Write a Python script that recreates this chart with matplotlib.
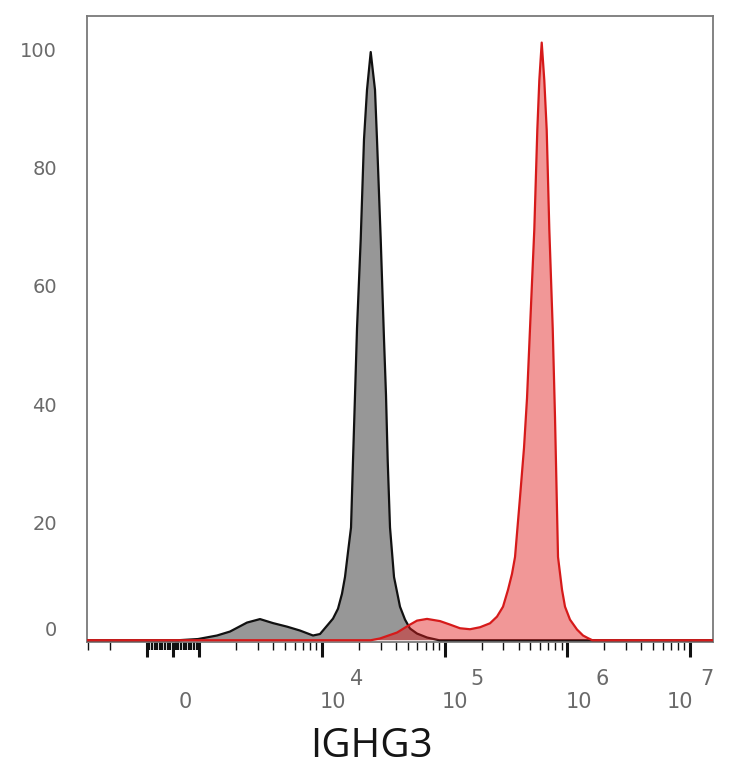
import numpy as np
import matplotlib
matplotlib.use("Agg")
import matplotlib.pyplot as plt
from matplotlib import transforms as mtrans

# ---------------- data (fluorescence intensity, % of max) ----------------
gray_x = [-5000, 200, 949, 1393, 1778, 2446, 3123, 3986, 5184, 6615, 8446, 9630,
          11190, 12290, 13500, 14550, 15400, 16290, 17240, 17890, 18580, 19290,
          20680, 21990, 23270, 24950, 27040, 28070, 30100, 32000, 33240, 34320,
          35840, 38640, 43230, 47500, 52160, 59500, 71800, 90000, 2e7]
gray_y = [0, 0, 0.2, 0.8, 1.47, 2.99, 3.58, 2.9, 2.3, 1.64, 0.8, 1.05,
          2.65, 3.66, 5.34, 7.87, 10.73, 14.94, 19.1, 30.4, 41.5, 52.8,
          67.9, 84.8, 93.2, 99.6, 93.2, 84.8, 67.9, 51.1, 41.5, 30.4,
          19.1, 10.7, 5.68, 3.49, 1.98, 1.13, 0.46, 0, 0]

red_x = [-5000, 25000, 29700, 40870, 52200, 59500, 71800, 91600, 110500, 133300,
         160800, 194100, 234200, 267000, 298900, 328300, 353800, 374500, 411200,
         443300, 469000, 496100, 537800, 569000, 590700, 618000, 648800, 678700,
         712700, 759800, 793200, 839200, 904700, 957000, 1051000, 1199000,
         1342000, 1474000, 1600000, 2e7]
red_y = [0, 0, 0.3, 1.3, 2.65, 3.32, 3.61, 3.24, 2.65, 2.03,
         1.86, 2.2, 2.87, 4.0, 5.68, 8.54, 11.24, 14.1, 24.2,
         32.6, 41.0, 52.8, 69.6, 86.4, 94.8, 101.2, 94.8, 86.4,
         69.6, 52.8, 37.7, 14.1, 8.54, 5.68, 3.49, 1.81,
         0.8, 0.35, 0, 0]

y_ticks = [0, 20, 40, 60, 80, 100]
x_major = [-1e3, 0, 1e3, 1e4, 1e5, 1e6, 1e7]
x_label_vals = [0, 1e4, 1e5, 1e6, 1e7]
x_label_base = ["0", "10", "10", "10", "10"]
x_label_exp = ["", "4", "5", "6", "7"]
x_title = "IGHG3"

# ---------------- biexponential-like axis transform ----------------
S = 0.2147
K = 1000.0


def fwd(x):
    x = np.asarray(x, dtype=float)
    a = np.abs(x)
    h = np.where(a <= K, S * a / K, S + np.log10(np.maximum(a, K) / K))
    return np.sign(x) * h


def inv(h):
    h = np.asarray(h, dtype=float)
    a = np.abs(h)
    x = np.where(a <= S, a / S * K, K * 10 ** (np.clip(a, S, 12) - S))
    return np.sign(h) * x


W, H = 734, 768
fig = plt.figure(figsize=(W / 100, H / 100), dpi=100)
ax = fig.add_axes([87 / W, 1 - 642 / H, 626 / W, 626 / H])
ax.set_xscale("function", functions=(fwd, inv))

# histograms
ax.fill_between(gray_x, gray_y, 0, facecolor="#979797", edgecolor="none", zorder=2)
ax.plot(gray_x, gray_y, color="#111111", lw=1.6, zorder=3, solid_joinstyle="round")
ax.fill_between(red_x, red_y, 0, facecolor=(0.88, 0.1, 0.1), alpha=0.45,
                edgecolor="none", zorder=4)
ax.plot(red_x, red_y, color="#d61a1a", lw=1.6, zorder=5, solid_joinstyle="round")

ax.set_xlim(-3064, 1.539e7)
ax.set_ylim(-0.3, 105.7)

# spines
for sp in ax.spines.values():
    sp.set_color("#7a7a7a")
    sp.set_linewidth(1.3)

# y ticks
ax.set_yticks(y_ticks)
ax.set_yticklabels([str(v) for v in y_ticks])
ax.tick_params(axis="y", length=0, pad=21.5, labelsize=14, labelcolor="#6a6a6a")
lbl0 = ax.get_yticklabels()[0]
lbl0.set_transform(lbl0.get_transform() +
                   mtrans.ScaledTranslation(0, 12 / 100, fig.dpi_scale_trans))

# x ticks
minor = []
for k in range(2, 10):
    minor += [-k * 1000]
for p in range(3, 7):
    for k in range(2, 10):
        minor.append(k * 10 ** p)
minor = [m for m in minor if -3064 < m < 1.539e7]
linear_minor = []
for k in range(1, 10):
    linear_minor += [k * 100, -k * 100]

ax.set_xticks(x_major)
ax.set_xticklabels([""] * len(x_major))
ax.set_xticks(minor, minor=True)
ax.set_xticklabels([""] * len(minor), minor=True)
ax.tick_params(axis="x", which="major", direction="out", length=10.5, width=2.2,
               color="#111111")
ax.tick_params(axis="x", which="minor", direction="out", length=5.5, width=1.0,
               color="#111111")
# dense ticks of the linear region around zero
for v in linear_minor:
    ax.plot([v, v], [0, -0.012], transform=ax.get_xaxis_transform(),
            color="#111111", lw=1.6, clip_on=False, zorder=1, solid_capstyle="butt")

# x tick labels (base + same-size raised exponent)
tf = ax.get_xaxis_transform()
base_dx = [12, -2, -3, -2, -23]
exp_dx = [0, 28, 26, 28, 10]
for v, b, e, bdx, edx in zip(x_label_vals, x_label_base, x_label_exp, base_dx, exp_dx):
    ha = "center" if e == "" else "left"
    ax.text(v, 0, b, ha=ha, va="baseline", fontsize=15, color="#6a6a6a",
            family="DejaVu Sans",
            transform=tf + mtrans.ScaledTranslation(bdx / 100, -66 / 100, fig.dpi_scale_trans),
            clip_on=False)
    if e:
        ax.text(v, 0, e, ha="left", va="baseline", fontsize=15, color="#6a6a6a",
                family="DejaVu Sans",
                transform=tf + mtrans.ScaledTranslation(edx / 100, -43 / 100, fig.dpi_scale_trans),
                clip_on=False)

fig.text(371 / W, 1 - 757 / H, x_title, ha="center", va="baseline", fontsize=29,
         family=["Open Sans", "DejaVu Sans"], color="#151515")

fig.savefig("out.png", dpi=100)
